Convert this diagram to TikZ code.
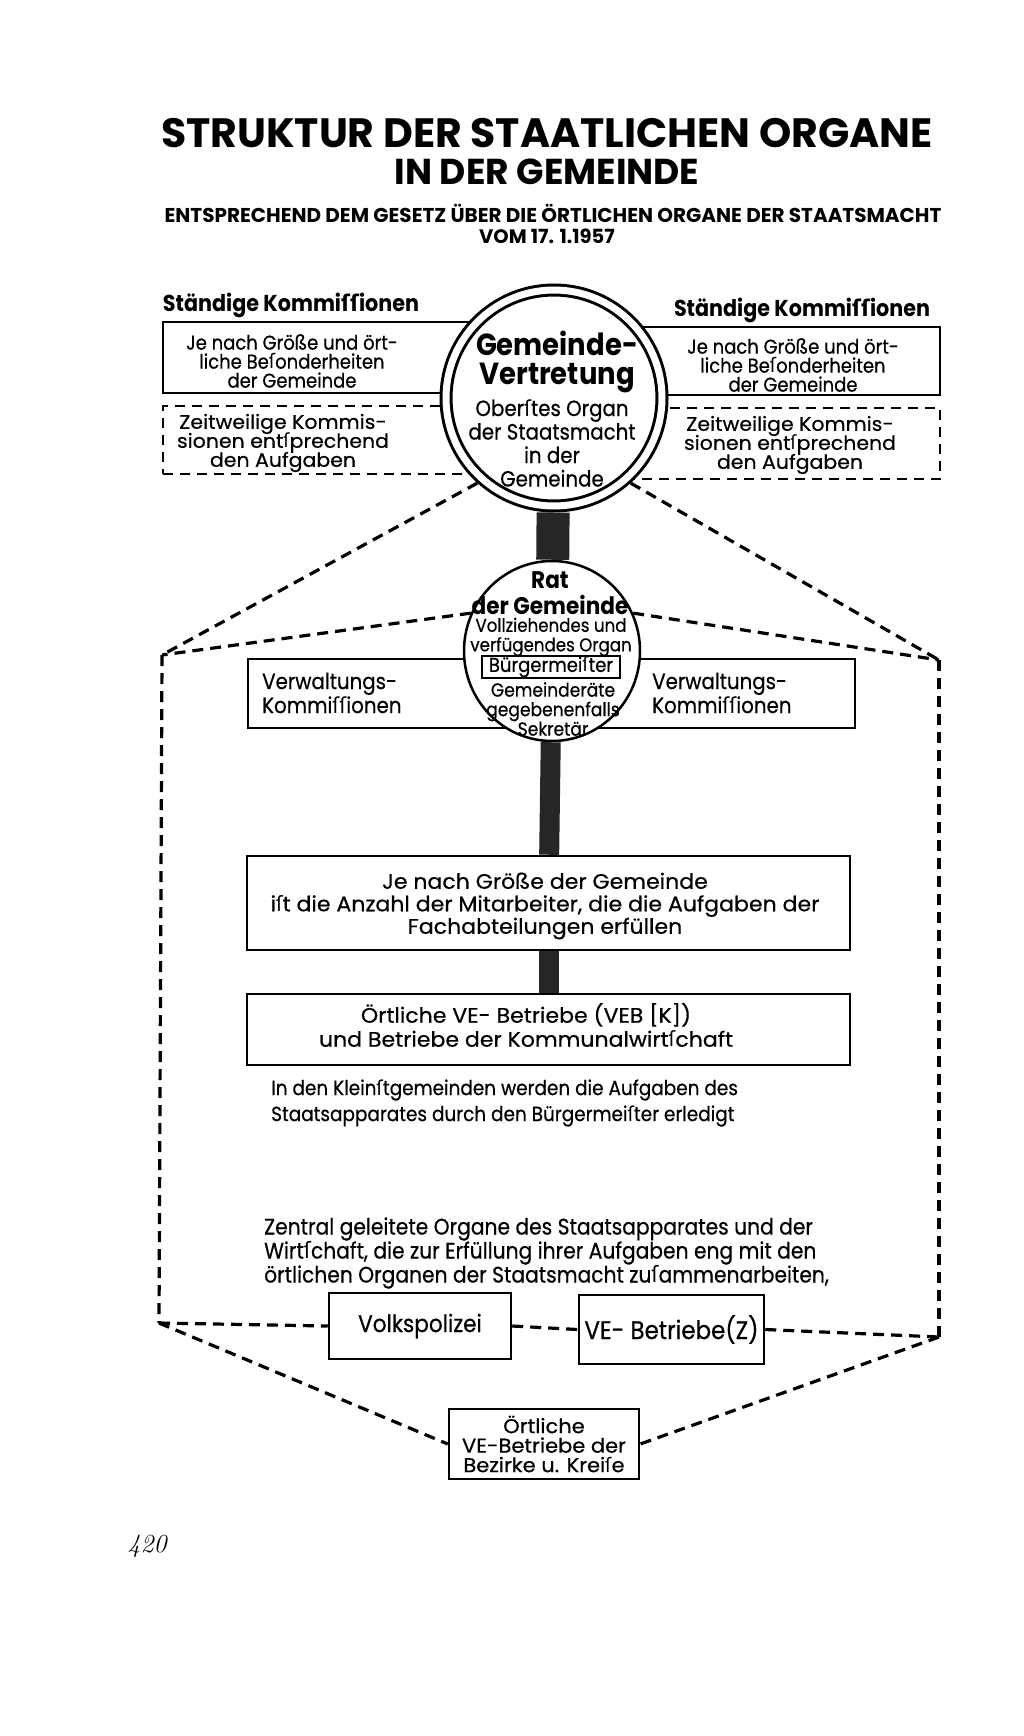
\documentclass[tikz,border=0pt]{standalone}
\usepackage{fontspec}
\usepackage{newunicodechar}
\setmainfont{Poppins}[FakeStretch=0.9,UprightFeatures={FakeBold=0.5}]
\newfontfamily\tf{Poppins}
\newfontfamily\wf{Poppins}[FakeStretch=1.05,FakeBold=0.5]
\newfontfamily\lsf{DejaVu Sans}[FakeStretch=0.9]
\newfontfamily\lm{Latin Modern Roman}
\newunicodechar{ſ}{{\lsf\symbol{"017F}}}
\newcommand\fsz[2]{\fontsize{#1}{#2}\selectfont\lineskiplimit=-20pt\relax}
\usetikzlibrary{shapes.geometric}
\begin{document}
\begin{tikzpicture}[x=1pt,y=-1pt,
 bx/.style={draw,line width=2.5pt,inner sep=0pt},
 dbx/.style={bx,dash pattern=on 10pt off 7pt},
 dl/.style={line width=3.2pt,dash pattern=on 11pt off 7pt},
 bar/.style={line width=#1,black!85},
 tx/.style={align=center,inner sep=0pt,font=\fsz{20}{19}}]
\useasboundingbox(0,0)rectangle(1024,1736);
% Kopf
\node[font=\tf\fsz{41}{41}\bfseries](t1)at(547,133){STRUKTUR DER STAATLICHEN ORGANE};
\node[font=\tf\fsz{36}{36}\bfseries](t2)at(547,172){IN DER GEMEINDE};
\node[font=\tf\fsz{20}{20}\bfseries](t3)at(553,213){ENTSPRECHEND DEM GESETZ ÜBER DIE ÖRTLICHEN ORGANE DER STAATSMACHT};
\node[font=\tf\fsz{19.5}{19.5}\bfseries](t4)at(547,236){VOM 17. 1.1957};
% Kommissionen
\node[font=\fsz{23}{23}\bfseries](sl)at(291,305){Ständige Kommiſſionen};
\node[font=\fsz{23}{23}\bfseries](sr)at(802,310){Ständige Kommiſſionen};
\node[bx,minimum width=317pt,minimum height=71pt](kl)at(321.5,357.5){};
\node[tx](klt)at(292,361){Je nach Größe und ört-\\liche Beſonderheiten\\der Gemeinde};
\node[dbx,minimum width=317pt,minimum height=68pt](zl)at(321.5,440){};
\node[tx,font=\wf\fsz{19.5}{19}](zlt)at(283,443){Zeitweilige Kommis-\\sionen entſprechend\\den Aufgaben};
\node[bx,minimum width=315pt,minimum height=68pt](kr)at(782.5,361){};
\node[tx](krt)at(793,365){Je nach Größe und ört-\\liche Beſonderheiten\\der Gemeinde};
\node[dbx,minimum width=315pt,minimum height=71pt](zr)at(782.5,443.5){};
\node[tx,font=\wf\fsz{19.5}{19}](zrt)at(790,445){Zeitweilige Kommis-\\sionen entſprechend\\den Aufgaben};
% Gemeindevertretung
\node[circle,draw,line width=3pt,double,double distance=7pt,fill=white,minimum size=216pt,outer sep=6.5pt](gv)at(554,398){};
\node[tx,font=\fsz{30.5}{29}\bfseries](gvt)at(557,362){Gemeinde-\\Vertretung};
\node[tx,font=\fsz{22}{23.5}](gvs)at(552,443){Oberſtes Organ\\der Staatsmacht\\in der\\Gemeinde};
% Rat
\node[bx,minimum width=272pt,minimum height=69pt](vl)at(384,693.5){};
\node[tx,align=left,anchor=west,font=\fsz{22}{24}](vlt)at(262,693){Verwaltungs-\\Kommiſſionen};
\node[bx,minimum width=270pt,minimum height=69pt](vr)at(720,693.5){};
\node[tx,align=left,anchor=west,font=\fsz{22}{24}](vrt)at(652,693){Verwaltungs-\\Kommiſſionen};
\node[ellipse,draw,line width=2.5pt,fill=white,minimum width=176pt,minimum height=180pt,inner sep=0pt](rat)at(552,651){};
\node[tx,font=\fsz{24}{26.5}\bfseries](rt)at(550,593){Rat\\der Gemeinde};
\node[tx,font=\fsz{18.5}{19.5}](rv)at(551,637){Vollziehendes und\\verfügendes Organ};
\node[draw,line width=2pt,font=\fsz{20}{20},minimum width=138pt,minimum height=21pt,inner sep=0.5pt](bm)at(551,667){Bürgermeiſter};
\node[tx,font=\fsz{19}{19.5}](rb)at(553,709){Gemeinderäte\\gegebenenfalls\\Sekretär};
% Fachabteilungen
\node[bx,minimum width=603pt,minimum height=94pt](ja)at(548.5,903){};
\node[tx,font=\wf\fsz{21}{22.5}](jat)at(545,906){Je nach Größe der Gemeinde\\iſt die Anzahl der Mitarbeiter, die die Aufgaben der\\Fachabteilungen erfüllen};
\node[bx,minimum width=603pt,minimum height=71pt](veb)at(548.5,1029.5){};
\node[tx,font=\wf\fsz{21}{24}](vebt)at(526,1025){Örtliche VE- Betriebe (VEB [K])\\und Betriebe der Kommunalwirtſchaft};
\node[tx,align=left,anchor=west,font=\fsz{20.5}{26}](kg)at(271,1103){In den Kleinſtgemeinden werden die Aufgaben des\\Staatsapparates durch den Bürgermeiſter erledigt};
\draw[bar=33pt](gv)--(rat);
\draw[bar=20pt](rat)--(ja);
\draw[bar=20pt](ja)--(veb);
% zentral geleitete Organe
\node[tx,align=left,anchor=west,font=\fsz{22.5}{24}](zg)at(264,1253){Zentral geleitete Organe des Staatsapparates und der\\Wirtſchaft, die zur Erfüllung ihrer Aufgaben eng mit den\\örtlichen Organen der Staatsmacht zuſammenarbeiten,};
\node[bx,tx,minimum width=182pt,minimum height=66pt,font=\fsz{24}{24}](vp)at(420,1326){Volkspolizei};
\node[bx,tx,minimum width=185pt,minimum height=69pt,font=\fsz{25.5}{25.5}](vez)at(671.5,1329.5){VE- Betriebe(Z)};
\node[bx,tx,minimum width=190pt,minimum height=70pt,font=\wf\fsz{20}{19.5}](ort)at(544,1444){Örtliche\\VE-Betriebe der\\Bezirke u. Kreiſe};
% gestrichelte Rahmen
\coordinate(el)at(162,655);\coordinate(er)at(939,660);
\coordinate(al)at(159,1323);\coordinate(ar)at(939,1337);
\draw[dl](gv.228)--(el);\draw[dl](gv.-48)--(er);
\draw[dl](rat.155)--(el);\draw[dl](rat.25)--(er);
\draw[dl](el)--(al);\draw[dl](er)--(ar);
\draw[dl](al)--(vp.west);\draw[dl](vp.east)--(vez.west);\draw[dl](vez.east)--(ar);
\draw[dl](al)--(ort.west);\draw[dl](ar)--(ort.east);
\node[font=\lm\itshape\fontsize{26}{26}\selectfont](pg)at(147,1546){420};
\end{tikzpicture}
\end{document}
